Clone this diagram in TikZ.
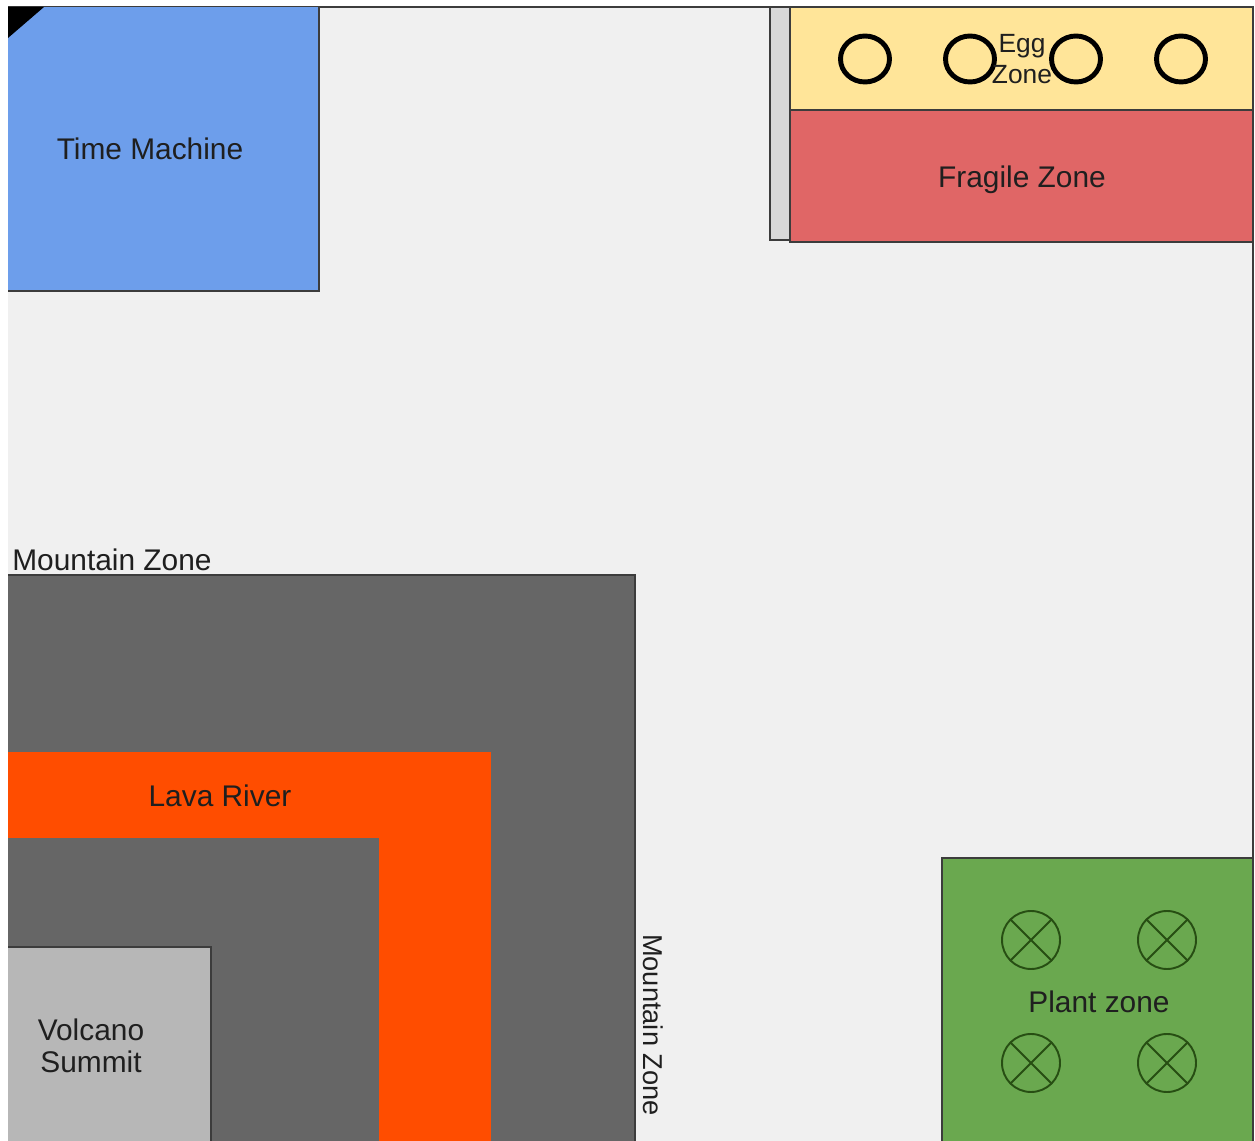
\documentclass[tikz,border=0pt]{standalone}
\usepackage{fontspec}
\setmainfont{Liberation Sans}
\definecolor{PARKfloor}{HTML}{F0F0F0}
\definecolor{PARKblue}{HTML}{6D9EEB}
\definecolor{PARKyellow}{HTML}{FFE599}
\definecolor{PARKred}{HTML}{E06666}
\definecolor{PARKgreen}{HTML}{6AA84F}
\definecolor{PARKdkgreen}{HTML}{274E13}
\definecolor{PARKrock}{HTML}{666666}
\definecolor{PARKlava}{HTML}{FF4D00}
\definecolor{PARKsummit}{HTML}{B7B7B7}
\definecolor{PARKwall}{HTML}{D9D9D9}
\definecolor{PARKedge}{HTML}{3C3C3C}
\definecolor{PARKtext}{HTML}{1F1F1F}

\begin{document}
\begin{tikzpicture}[x=0.02cm, y=-0.02cm,
      zone/.style={draw=PARKedge, line width=0.6pt},
      txt/.style={text=PARKtext, font=\fontsize{17}{18}\selectfont, align=center, inner sep=0pt},
      egg/.style={draw=black, line width=2.8pt},
      plant/.style={draw=PARKdkgreen, line width=1.1pt}]
   \useasboundingbox (0,0) rectangle (1255,1141);
   % Floor
   \fill[PARKfloor] (8,7) rectangle (1253,1141);
   \draw[PARKedge, line width=0.6pt] (8,7) -- (1253,7) -- (1253,1141);
   \begin{scope}
      \clip (8,7) rectangle (1255,1141);
      % Time Machine
      \draw[zone, fill=PARKblue] (7,6) rectangle (319,291);
      \fill[black] (8,7) -- (44,7) -- (8,38) -- cycle;
      % Wall, Egg Zone, Fragile Zone
      \draw[zone, fill=PARKwall] (770,7) rectangle (790,240);
      \draw[zone, fill=PARKyellow] (790,7) rectangle (1253,110);
      \draw[zone, fill=PARKred] (790,110) rectangle (1253,242);
      \foreach \x in {865,970,1076,1181}
         \draw[egg] (\x,59) ellipse [x radius=24.5, y radius=23];
      % Mountain Zone, Lava River, Volcano Summit
      \draw[zone, fill=PARKrock] (7,575) rectangle (635,1142);
      \fill[PARKlava] (7,752) rectangle (491,1142);
      \fill[PARKrock] (7,838) rectangle (379,1142);
      \draw[zone, fill=PARKsummit] (7,947) rectangle (211,1142);
      % Plant zone
      \draw[zone, fill=PARKgreen] (942,858) rectangle (1253,1142);
      \foreach \x/\y in {1031/940, 1167/940, 1031/1063, 1167/1063} {
         \draw[plant] (\x,\y) circle (29);
         \draw[plant] (\x-20.5,\y-20.5) -- (\x+20.5,\y+20.5)
            (\x-20.5,\y+20.5) -- (\x+20.5,\y-20.5);
      }
   \end{scope}
   % Labels
   \node[txt] (tmlbl) at (150,149) {Time Machine};
   \node[txt, font=\fontsize{15}{17.5}\selectfont] (egglbl) at (1022,59) {Egg\\Zone};
   \node[txt] (fraglbl) at (1022,180) {Fragile Zone};
   \node[txt, anchor=base west] (mtnlbl) at (12,571) {Mountain Zone};
   \node[txt, font=\fontsize{15.5}{17}\selectfont, rotate=-90] (mtnsidelbl) at (653,1025) {Mountain Zone};
   \node[txt] (lavalbl) at (220,796) {Lava River};
   \node[txt] (volclbl) at (91,1046) {Volcano\\Summit};
   \node[txt] (plantlbl) at (1099,1002) {Plant zone};
\end{tikzpicture}
\end{document}
